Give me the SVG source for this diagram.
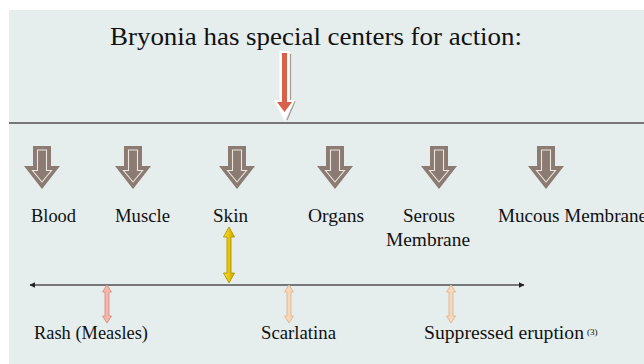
<svg xmlns="http://www.w3.org/2000/svg" width="644" height="364" viewBox="0 0 644 364">
<style>
  text { font-family: 'Liberation Serif', 'Times New Roman', serif; fill: #111; }
  .title { font-size: 26px; }
  .lbl { font-size: 18px; }
  .sup { font-size: 9px; }
  .big { fill: #8b7b72; }
  .bigin { fill: #8b7b72; stroke: #ece6e1; stroke-width: 1.1; }
  .line { stroke: #505050; stroke-width: 1.5; fill: none; }
  .pink { fill: #f2b8ae; stroke: #df8a80; stroke-width: 0.9; }
  .peach { fill: #f5d8bd; stroke: #dfb48e; stroke-width: 0.9; }
  .yellow { fill: url(#yg); stroke: #b39400; stroke-width: 0.9; }
</style>
<defs>
  <linearGradient id="yg" x1="0" y1="0" x2="1" y2="0">
    <stop offset="0" stop-color="#f7e040"/>
    <stop offset="0.5" stop-color="#e8c600"/>
    <stop offset="1" stop-color="#c49e00"/>
  </linearGradient>
  <g id="bigArrow">
    <path class="big" d="M-9,0 H9 V20 H18 L0,43 L-18,20 H-9 Z"/>
    <path class="bigin" d="M-4.5,4 H4.5 V24.5 H9.5 L0,36 L-9.5,24.5 H-4.5 Z"/>
  </g>
  <path id="dbl" d="M0,0 L4.5,7 H2 V31 H4.5 L0,38 L-4.5,31 H-2 V7 H-4.5 Z"/>
  <marker id="tri" viewBox="0 0 10 10" refX="9" refY="5" markerWidth="6" markerHeight="6" markerUnits="userSpaceOnUse" orient="auto-start-reverse">
    <path d="M0,0 L10,5 L0,10 Z" fill="#222"/>
  </marker>
</defs>

<rect x="0" y="0" width="644" height="364" fill="#ffffff"/>
<rect x="9" y="10" width="635" height="354" fill="#e5eded"/>

<g id="title">
  <text class="title" x="110" y="45" textLength="412" lengthAdjust="spacingAndGlyphs">Bryonia has special centers for action:</text>
</g>

<g id="connectors">
  <path d="M290.5,54 V100 M295,101 L287,120" stroke="#a89890" stroke-width="1.2" fill="none"/>
  <path d="M279.5,51 H289.5 V100 H295 L284.5,121 L274,100 H279.5 Z" fill="#ffffff"/>
  <path d="M282,53 H287 V102 H292 L284.5,112 L277,102 H282 Z" fill="#d9604a"/>
  <line class="line" x1="9" y1="123" x2="644" y2="123"/>
  <line class="line" x1="30" y1="285" x2="524" y2="285" marker-start="url(#tri)" marker-end="url(#tri)"/>
  <path class="yellow" d="M229,227 L234.5,237 H231 V273 H234.5 L229,283 L223.5,273 H227 V237 H223.5 Z"/>
  <use href="#dbl" class="pink" x="107" y="285"/>
  <use href="#dbl" class="peach" x="289" y="285"/>
  <use href="#dbl" class="peach" x="451" y="285"/>
</g>

<g id="node-blood">
  <use href="#bigArrow" x="42" y="146"/>
  <text class="lbl" x="31" y="222" textLength="45" lengthAdjust="spacingAndGlyphs">Blood</text>
</g>
<g id="node-muscle">
  <use href="#bigArrow" x="133" y="146"/>
  <text class="lbl" x="115" y="222" textLength="55" lengthAdjust="spacingAndGlyphs">Muscle</text>
</g>
<g id="node-skin">
  <use href="#bigArrow" x="237" y="146"/>
  <text class="lbl" x="213" y="222" textLength="35" lengthAdjust="spacingAndGlyphs">Skin</text>
</g>
<g id="node-organs">
  <use href="#bigArrow" x="335" y="146"/>
  <text class="lbl" x="308" y="222" textLength="56" lengthAdjust="spacingAndGlyphs">Organs</text>
</g>
<g id="node-serous">
  <use href="#bigArrow" x="439" y="146"/>
  <text class="lbl" x="403" y="222" textLength="52" lengthAdjust="spacingAndGlyphs">Serous</text>
  <text class="lbl" x="386" y="246" textLength="84" lengthAdjust="spacingAndGlyphs">Membrane</text>
</g>
<g id="node-mucous">
  <use href="#bigArrow" x="546" y="146"/>
  <text class="lbl" x="498" y="222" textLength="149" lengthAdjust="spacingAndGlyphs">Mucous Membrane</text>
</g>

<g id="node-rash">
  <text class="lbl" x="34" y="339" textLength="114" lengthAdjust="spacingAndGlyphs">Rash (Measles)</text>
</g>
<g id="node-scarlatina">
  <text class="lbl" x="261" y="339" textLength="75" lengthAdjust="spacingAndGlyphs">Scarlatina</text>
</g>
<g id="node-suppressed">
  <text class="lbl" x="424" y="339" textLength="160" lengthAdjust="spacingAndGlyphs">Suppressed eruption</text>
  <text class="sup" x="587" y="335">(3)</text>
</g>
</svg>
